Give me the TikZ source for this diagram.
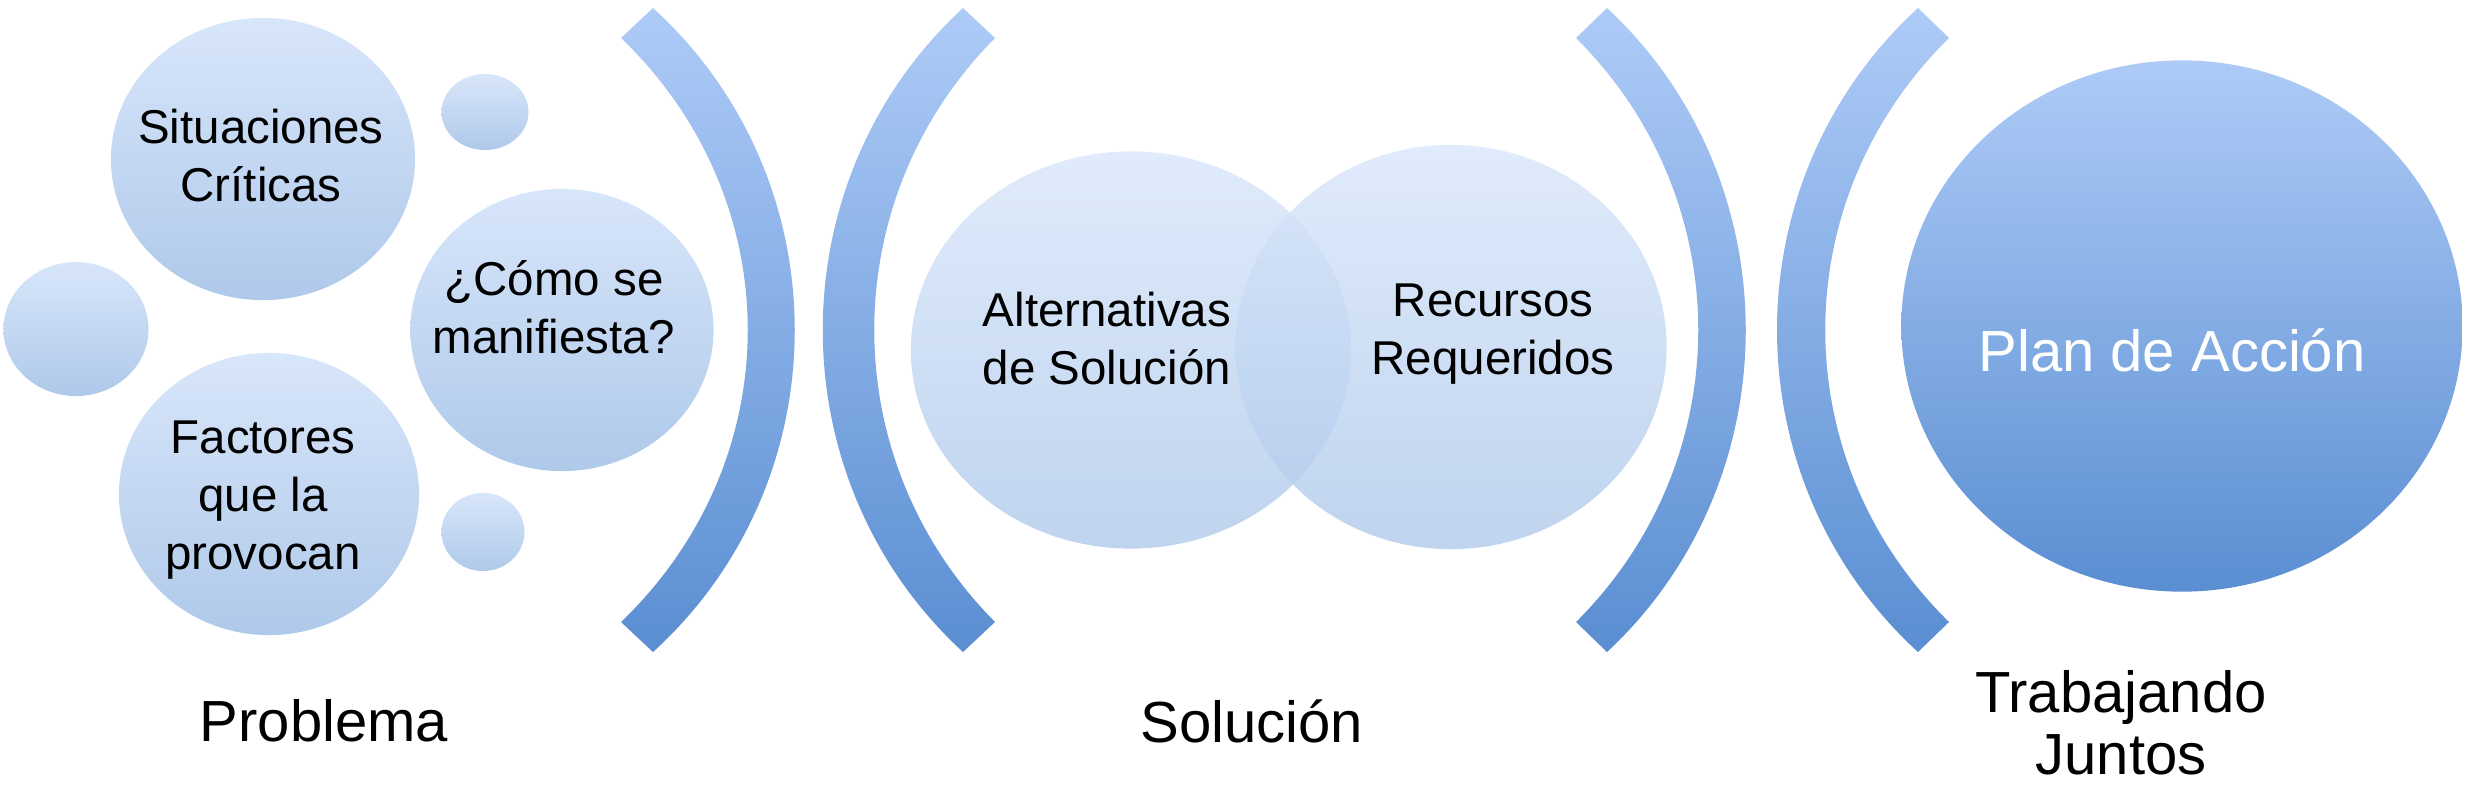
\documentclass[tikz,border=0pt]{standalone}
\usepackage{fontspec}
\setmainfont{Liberation Sans}
\usetikzlibrary{shapes.geometric}
\definecolor{ctop}{HTML}{D8E6FA}
\definecolor{cbot}{HTML}{AFC9EA}
\definecolor{btop}{HTML}{AECBF7}
\definecolor{bbot}{HTML}{5A8ED2}
\tikzset{
  bub/.style={ellipse, inner sep=0pt, top color=ctop, bottom color=cbot, draw=none},
  venn/.style={ellipse, inner sep=0pt, top color=ctop, bottom color=cbot, draw=none, fill opacity=0.8},
  big/.style={ellipse, inner sep=0pt, top color=btop, bottom color=bbot, draw=none},
  brk/.style={top color=btop, bottom color=bbot, draw=none},
  txt/.style={align=center, font=\fontsize{13.5}{16.5}\selectfont, inner sep=0pt},
  lab/.style={align=center, font=\fontsize{16.5}{17.5}\selectfont, inner sep=0pt}
}
\begin{document}
\begin{tikzpicture}[x=0.01cm,y=-0.01cm]
\useasboundingbox (0,0) rectangle (2478,796);
% bubbles
\node[bub, minimum width=3.04cm, minimum height=2.82cm] (sit) at (263,159) {};
\node[bub, minimum width=0.87cm, minimum height=0.76cm] (s1) at (485,112) {};
\node[bub, minimum width=1.45cm, minimum height=1.34cm] (s2) at (76,329) {};
\node[bub, minimum width=3.03cm, minimum height=2.82cm] (como) at (562,330) {};
\node[bub, minimum width=3.00cm, minimum height=2.82cm] (fac) at (269,494) {};
\node[bub, minimum width=0.83cm, minimum height=0.78cm] (s3) at (483,532) {};
% venn
\node[venn, minimum width=4.40cm, minimum height=3.97cm] (alt) at (1131,350) {};
\node[venn, minimum width=4.31cm, minimum height=4.04cm] (rec) at (1451,347) {};
% plan
\node[big, minimum width=5.61cm, minimum height=5.31cm] (plan) at (2182,326) {};
% brackets
\path[brk] (621,38) -- (653,8) .. controls (842,180) and (842,480) .. (653,652) -- (621,622) .. controls (790,460) and (790,200) .. cycle;
\path[brk] (995,38) -- (963,8) .. controls (776,180) and (776,480) .. (963,652) -- (995,622) .. controls (834,460) and (834,200) .. cycle;
\path[brk] (1576,38) -- (1607,8) .. controls (1792,180) and (1792,480) .. (1607,652) -- (1576,622) .. controls (1739,460) and (1739,200) .. cycle;
\path[brk] (1949,38) -- (1918,8) .. controls (1730,180) and (1730,480) .. (1918,652) -- (1949,622) .. controls (1784,460) and (1784,200) .. cycle;
% texts
\node[txt] (tsit) at (261,156) {Situaciones\\Críticas};
\node[txt] (tcomo) at (554,307) {¿Cómo se\\manifiesta?};
\node[txt] (tfac) at (263,500) {Factores\\que la\\provocan};
\node[txt] (talt) at (1107,339) {Alternativas\\de Solución};
\node[txt] (trec) at (1493,334) {Recursos\\Requeridos};
\node[lab, text=white] (tplan) at (2172,350) {Plan de Acción};
\node[lab] (prob) at (324,721) {Problema};
\node[lab] (sol) at (1252,721) {Solución};
\node[lab] (trab) at (2121,723) {Trabajando\\Juntos};
\end{tikzpicture}
\end{document}
